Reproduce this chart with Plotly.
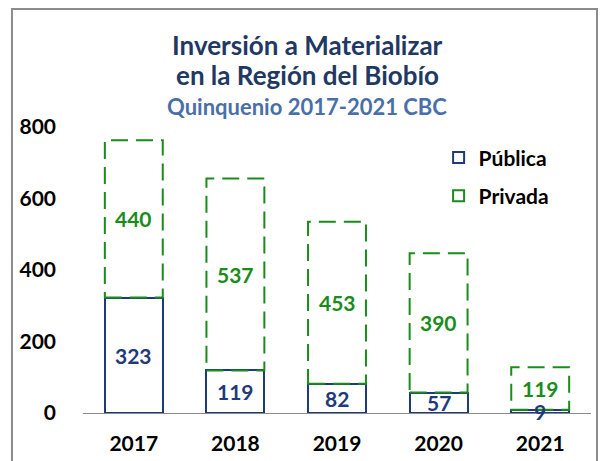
import plotly.graph_objects as go

years = ["2017", "2018", "2019", "2020", "2021"]
publica = [323, 119, 82, 57, 9]
privada = [440, 537, 453, 390, 119]
y_ticks = [0, 200, 400, 600, 800]

NAVY = "#1f3a7a"
GREEN = "#1a8c1a"
FONT = "Lato"
BAR_W = 0.57

fig = go.Figure()

fig.add_trace(go.Bar(
    x=years, y=publica, width=BAR_W, name="Pública", showlegend=False,
    marker=dict(color="white", line=dict(color=NAVY, width=2)),
    hoverinfo="skip",
))
fig.add_trace(go.Bar(
    x=years, y=privada, width=BAR_W, name="Privada", showlegend=False,
    marker=dict(color="rgba(255,255,255,0)", line=dict(width=0)),
    hoverinfo="skip",
))

# dashed outlines for Privada segments
for i, (p, q) in enumerate(zip(publica, privada)):
    fig.add_shape(type="rect", xref="x", yref="y",
                  x0=i - BAR_W / 2, x1=i + BAR_W / 2, y0=p, y1=p + q,
                  line=dict(color=GREEN, width=2, dash="17px,8px"),
                  fillcolor="rgba(0,0,0,0)")

# value labels
for i, (p, q) in enumerate(zip(publica, privada)):
    fig.add_annotation(xref="x", yref="y", x=i, y=p / 2, text=str(p),
                       showarrow=False, yanchor="middle", xanchor="center",
                       font=dict(family=FONT, size=21, color=NAVY, weight="bold"))
    fig.add_annotation(xref="x", yref="y", x=i, y=p + q / 2, text=str(q),
                       showarrow=False, yanchor="middle", xanchor="center",
                       font=dict(family=FONT, size=21, color=GREEN, weight="bold"))

# legend entries
fig.add_trace(go.Scatter(x=[None], y=[None], mode="markers", name="Pública",
                         legendgroup="a",
                         marker=dict(symbol="square-open", size=11,
                                     color=NAVY, line=dict(width=2, color=NAVY))))
fig.add_trace(go.Scatter(x=[None], y=[None], mode="markers", name="Privada",
                         legendgroup="b",
                         marker=dict(symbol="square-open", size=11,
                                     color=GREEN, line=dict(width=2, color=GREEN))))

# titles
fig.add_annotation(xref="paper", yref="paper", x=0.441, y=1.287, yanchor="middle",
                   text="Inversión a Materializar", showarrow=False,
                   font=dict(family=FONT, size=26, color="#1f3864", weight="bold"))
fig.add_annotation(xref="paper", yref="paper", x=0.441, y=1.182, yanchor="middle",
                   text="en la Región del Biobío", showarrow=False,
                   font=dict(family=FONT, size=26, color="#1f3864", weight="bold"))
fig.add_annotation(xref="paper", yref="paper", x=0.441, y=1.070, yanchor="middle",
                   text="Quinquenio 2017-2021 CBC", showarrow=False,
                   font=dict(family=FONT, size=22, color="#4a6fa8", weight="bold"))

# chart border
fig.add_shape(type="rect", xref="paper", yref="paper",
              x0=-0.1398, x1=1.0118, y0=-0.4, y1=1.4126,
              line=dict(color="#8c8c8c", width=2), fillcolor="rgba(0,0,0,0)")

fig.update_layout(
    width=599, height=453,
    margin=dict(l=75, r=16, t=119, b=48, autoexpand=False),
    paper_bgcolor="white", plot_bgcolor="white",
    barmode="stack",
    showlegend=True,
    legend=dict(x=0.700, y=0.964, xanchor="left", yanchor="top",
                tracegroupgap=8, itemwidth=30,
                font=dict(family=FONT, size=21, color="black", weight="bold"),
                bgcolor="rgba(0,0,0,0)"),
    font=dict(family=FONT),
)
fig.update_xaxes(type="category", showgrid=False, showline=True, automargin=False,
                 linecolor="#8c8c8c", linewidth=1, ticks="", layer="above traces",
                 ticklabelstandoff=12,
                 tickfont=dict(family=FONT, size=21, color="black", weight="bold"),
                 range=[-0.5, 4.5])
fig.update_yaxes(range=[0, 800], tickvals=y_ticks, showgrid=False, automargin=False,
                 zeroline=False, showline=False, ticks="",
                 ticklabelstandoff=26,
                 tickfont=dict(family=FONT, size=21, color="black", weight="bold"))

fig.write_html("out.html")
